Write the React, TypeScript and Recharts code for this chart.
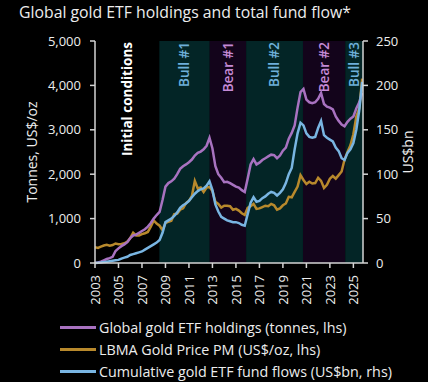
import { ComposedChart, Line, XAxis, YAxis, ReferenceArea } from "recharts"

const years = [2003, 2004, 2005, 2006, 2007, 2008, 2009, 2010, 2011, 2012, 2013, 2014, 2015, 2016, 2017, 2018, 2019, 2020, 2021, 2022, 2023, 2024, 2025]

// quarterly readings, four per year
const holdings = [
    0, 10, 30, 60,
    90, 110, 140, 270,
    330, 380, 420, 470,
    560, 620, 640, 680,
    720, 760, 820, 900,
    1000, 1080, 1150, 1420,
    1720, 1800, 1840, 1900,
    2000, 2120, 2180, 2220,
    2270, 2330, 2420, 2480,
    2510, 2560, 2640, 2820,
    2580, 2180, 2000, 1920,
    1820, 1830, 1800, 1760,
    1720, 1700, 1640, 1600,
    1900, 2220, 2340, 2220,
    2260, 2320, 2360, 2400,
    2440, 2430, 2360, 2420,
    2530, 2600, 2800, 2930,
    3100, 3500, 3850, 3920,
    3680, 3620, 3600, 3620,
    3700, 3830, 3580, 3520,
    3500, 3460, 3300, 3200,
    3120, 3080, 3180, 3250,
    3300, 3480, 3620, 3830,
]

const goldPrice = [
    355, 340, 370, 395,
    410, 390, 405, 440,
    425, 430, 445, 480,
    560, 680, 620, 620,
    650, 670, 700, 820,
    960, 890, 840, 740,
    900, 930, 950, 1100,
    1110, 1200, 1230, 1350,
    1400, 1510, 1850, 1680,
    1700, 1600, 1700, 1710,
    1620, 1380, 1330, 1250,
    1290, 1290, 1280, 1200,
    1220, 1180, 1120, 1080,
    1240, 1280, 1330, 1220,
    1230, 1260, 1290, 1280,
    1330, 1300, 1200, 1230,
    1300, 1340, 1490, 1480,
    1600, 1720, 1980, 1870,
    1780, 1830, 1790, 1800,
    1920, 1850, 1690, 1760,
    1900, 1960, 1900, 1980,
    2060, 2330, 2500, 2650,
    2900, 3300, 3480, 4150,
]

const fundFlows = [
    0, 0.3, 0.6, 1,
    1.5, 2, 2.5, 3,
    3.5, 5, 6, 7,
    9, 10, 11, 12,
    13, 15, 17, 19,
    21, 23, 26, 34,
    46, 48, 50, 53,
    57, 62, 65, 67,
    70, 74, 78, 81,
    83, 84, 87, 92,
    82, 66, 58, 52,
    50, 48, 47, 46,
    46, 45, 43, 42,
    55, 68, 74, 69,
    70, 73, 75, 78,
    80, 79, 76, 79,
    83, 90, 100, 107,
    128, 146, 158, 155,
    146, 142, 141, 142,
    152, 160, 144, 141,
    139, 137, 130, 126,
    118, 116, 124, 128,
    135, 150, 172, 204,
]

const periodNames = ["Initial conditions", "Bull #1", "Bear #1", "Bull #2", "Bear #2", "Bull #3"]
const periodStart = [2003, 2008.48, 2012.77, 2015.87, 2020.71, 2024.31]
const periodEnd = [2008.48, 2012.77, 2015.87, 2020.71, 2024.31, 2025.82]

const xTicks = [2003, 2005, 2007, 2009, 2011, 2013, 2015, 2017, 2019, 2021, 2023, 2025]
const leftTicks = [0, 1000, 2000, 3000, 4000, 5000]
const rightTicks = [0, 50, 100, 150, 200, 250]

const seriesNames = [
    "Global gold ETF holdings (tonnes, lhs)",
    "LBMA Gold Price PM (US$/oz, lhs)",
    "Cumulative gold ETF fund flows (US$bn, rhs)",
]

const PURPLE = "#a872c0"
const GOLD = "#b8892c"
const BLUE = "#79b5e2"
const FONT = "'Open Sans', 'Noto Sans', sans-serif"
const TEXT = "#ededed"
const AXIS = "#d4d4d4"

const data = holdings.map((h, i) => ({
    t: years[Math.floor(i / 4)] + (i % 4) / 4,
    holdings: h,
    gold: goldPrice[i],
    flows: fundFlows[i],
}))

function periodStyle(name: string) {
    if (name.startsWith("Bull")) return { fill: "#032526", color: "#6eb0da", weight: 600 }
    if (name.startsWith("Bear")) return { fill: "#13041b", color: "#c58ad6", weight: 600 }
    return { fill: "none", color: "#ffffff", weight: 700 }
}

function PeriodLabel(props: any) {
    const { viewBox, text, color, weight } = props
    if (!viewBox) return null
    const x = viewBox.x + viewBox.width / 2
    const y = viewBox.y + 1
    return (
        <text
            x={x}
            y={y}
            transform={`rotate(-90, ${x}, ${y})`}
            textAnchor="end"
            dy="0.36em"
            fill={color}
            fontWeight={weight}
            fontSize={13.5}
            fontFamily={FONT}
        >
            {text}
        </text>
    )
}

function YearTick(props: any) {
    const { x, y, payload } = props
    return (
        <text
            x={x}
            y={y}
            transform={`rotate(-90, ${x}, ${y})`}
            textAnchor="end"
            dy="0.36em"
            fill={TEXT}
            fontSize={13}
            fontFamily={FONT}
        >
            {payload.value}
        </text>
    )
}

function LeftTitle(props: any) {
    const { viewBox } = props
    const x = 32
    const y = viewBox.y + viewBox.height / 2
    return (
        <text x={x} y={y} transform={`rotate(-90, ${x}, ${y})`} textAnchor="middle" dy="0.36em" fill={TEXT} fontSize={14} fontFamily={FONT}>
            Tonnes, US$/oz
        </text>
    )
}

function RightTitle(props: any) {
    const { viewBox } = props
    const x = viewBox.x + 45
    const y = viewBox.y + viewBox.height / 2
    return (
        <text x={x} y={y} transform={`rotate(-90, ${x}, ${y})`} textAnchor="middle" dy="0.36em" fill={TEXT} fontSize={14} fontFamily={FONT}>
            US$bn
        </text>
    )
}

export default function App() {
    const colors = [PURPLE, GOLD, BLUE]
    return (
        <div style={{ position: "absolute", left: 0, top: 0, width: 428, height: 382, background: "#000", fontFamily: FONT, overflow: "hidden" }}>
            <div style={{ position: "absolute", left: 19, top: 1, fontSize: 15.8, lineHeight: "22px", color: TEXT, whiteSpace: "nowrap" }}>
                Global gold ETF holdings and total fund flow*
            </div>
            <ComposedChart width={428} height={382} data={data} margin={{ top: 41, right: 0, bottom: 74, left: 0 }}>
                {periodNames.map((name, i) => {
                    const s = periodStyle(name)
                    return (
                        <ReferenceArea
                            key={name}
                            x1={periodStart[i]}
                            x2={periodEnd[i]}
                            yAxisId="left"
                            fill={s.fill}
                            fillOpacity={1}
                            stroke="none"
                            label={<PeriodLabel text={name} color={s.color} weight={s.weight} />}
                        />
                    )
                })}
                <XAxis
                    dataKey="t"
                    type="number"
                    domain={[2003, 2025.82]}
                    ticks={xTicks}
                    interval={0}
                    height={45}
                    stroke={AXIS}
                    strokeWidth={1.5}
                    tickSize={5}
                    tickMargin={7}
                    tick={<YearTick />}
                    allowDataOverflow
                />
                <YAxis
                    yAxisId="left"
                    width={95}
                    domain={[0, 5000]}
                    ticks={leftTicks}
                    stroke={AXIS}
                    strokeWidth={1.5}
                    tickSize={5}
                    tickMargin={9}
                    tick={{ fill: TEXT, fontSize: 13, fontFamily: FONT }}
                    tickFormatter={(v) => v.toLocaleString("en-US")}
                    label={<LeftTitle />}
                />
                <YAxis
                    yAxisId="right"
                    orientation="right"
                    width={65}
                    domain={[0, 250]}
                    ticks={rightTicks}
                    stroke={AXIS}
                    strokeWidth={1.5}
                    tickSize={5}
                    tickMargin={8}
                    tick={{ fill: TEXT, fontSize: 13, fontFamily: FONT }}
                    label={<RightTitle />}
                />
                <Line yAxisId="left" dataKey="gold" stroke={GOLD} strokeWidth={2.5} dot={false} isAnimationActive={false} />
                <Line yAxisId="left" dataKey="holdings" stroke={PURPLE} strokeWidth={2.5} dot={false} isAnimationActive={false} />
                <Line yAxisId="right" dataKey="flows" stroke={BLUE} strokeWidth={2.5} dot={false} isAnimationActive={false} />
            </ComposedChart>
            {seriesNames.map((name, i) => (
                <div key={name} style={{ position: "absolute", left: 60, top: 316 + i * 22, height: 22, display: "flex", alignItems: "center", whiteSpace: "nowrap" }}>
                    <div style={{ width: 36, height: 3, background: colors[i], marginRight: 3 }} />
                    <span style={{ color: TEXT, fontSize: 14.3 }}>{name}</span>
                </div>
            ))}
        </div>
    )
}
